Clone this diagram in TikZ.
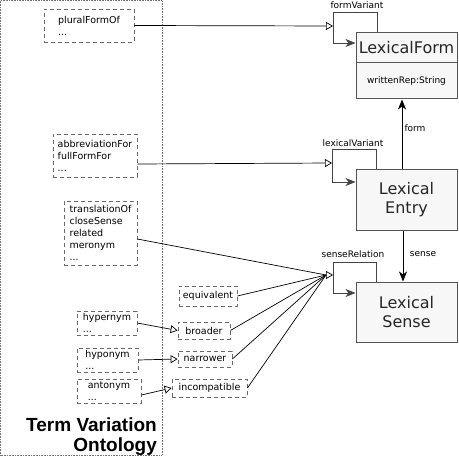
\documentclass[tikz,border=0pt]{standalone}
\usepackage{fontspec}
\setmainfont{DejaVu Sans}
\newfontfamily\tvofont{Liberation Sans}
\usetikzlibrary{arrows.meta,calc}
\definecolor{boxgray}{HTML}{555555}
\definecolor{boxfill}{HTML}{F7F7F7}
\definecolor{dgray}{HTML}{6A6A6A}
\definecolor{outgray}{HTML}{707070}
\definecolor{loopcol}{HTML}{444444}
\begin{document}
\begin{tikzpicture}[x=1pt,y=-1pt,
  mainbox/.style={draw=boxgray, fill=boxfill, line width=1pt, minimum width=101pt, inner sep=0pt, align=center, font=\fontsize{16}{19}\selectfont, text=black!85},
  dbox/.style={draw=dgray, dash pattern=on 4pt off 3pt, line width=0.8pt, inner sep=0pt, align=left, font=\fontsize{9.5}{12}\selectfont},
  lbl/.style={font=\fontsize{9}{11}\selectfont, inner sep=0pt},
  openarr/.style={line width=0.7pt, -{Triangle[open, length=7pt, width=8pt, fill=white]}},
  solidarr/.style={line width=0.8pt, -{Stealth[length=10pt, width=8pt, inset=3pt]}},
  plainline/.style={line width=0.7pt},
  outerframe/.style={draw=outgray, line width=0.8pt, dash pattern=on 0.8pt off 0.8pt},
]
\useasboundingbox (0,0) rectangle (458,462);

% outer dotted frame of the Term Variation Ontology
\draw[outerframe] (0.6,0.6) rectangle (162,455);
\node[anchor=east, align=right, inner sep=0pt, font=\tvofont\fontsize{19}{20}\bfseries\selectfont] (tvo) at (157,437) {Term Variation\\Ontology};

% dashed boxes
\node[dbox, minimum width=90pt, minimum height=33pt] (pf) at (89,25.5) {pluralFormOf\\...};
\node[dbox, minimum width=84pt, minimum height=43pt] (ab) at (95,155.5) {abbreviationFor\\fullFormFor\\...};
\node[dbox, minimum width=73pt, minimum height=64pt] (tr) at (100.5,233) {translationOf\\closeSense\\related\\meronym\\...};
\node[dbox, minimum width=60pt, minimum height=24pt] (hy) at (107,323) {hypernym\\...};
\node[dbox, minimum width=61pt, minimum height=24pt] (ho) at (107.5,360) {hyponym\\...};
\node[dbox, minimum width=64pt, minimum height=24pt] (an) at (109,391) {antonym\\...};
\node[dbox, minimum width=58pt, minimum height=20pt] (eq) at (208,296) {equivalent};
\node[dbox, minimum width=52pt, minimum height=17pt] (br) at (204,330.5) {broader};
\node[dbox, minimum width=54pt, minimum height=16pt] (na) at (205,359) {narrower};
\node[dbox, minimum width=75pt, minimum height=18pt] (ic) at (209.5,388) {incompatible};

% main boxes
\node[mainbox, minimum height=66pt] (LF) at (406.5,66) {};
\draw[boxgray, line width=1pt] ($(LF.north west)+(0,30)$) -- ($(LF.north east)+(0,30)$);
\node[inner sep=0pt, font=\fontsize{16}{19}\selectfont, text=black!85] (lfT) at (406.5,48) {LexicalForm};
\node[lbl] (lfA) at (406.5,81) {writtenRep:String};
\node[mainbox, minimum height=60pt] (LE) at (406.5,200) {Lexical\\Entry};
\node[mainbox, minimum height=60pt] (LS) at (406.5,312) {Lexical\\Sense};

% formVariant loop
\coordinate (fvA) at (377,12);
\coordinate (fvB) at (333,43);
\coordinate (fvT) at (333,26);
\draw[solidarr, loopcol] (fvA |- LF.north) -- (fvA) -| (fvB) -- (fvB -| LF.west);
\node[lbl] (fvL) at (357,5) {formVariant};
\draw[openarr] (pf.east) -- (fvT);

% lexicalVariant loop
\coordinate (lvA) at (376,149);
\coordinate (lvB) at (332,182);
\coordinate (lvT) at (332,163);
\draw[solidarr, loopcol] (lvA |- LE.north) -- (lvA) -| (lvB) -- (lvB -| LE.west);
\node[lbl] (lvL) at (353,143) {lexicalVariant};
\draw[openarr] ($(ab.east)+(0,8.5)$) -- (lvT);

% senseRelation loop
\coordinate (srA) at (376,262);
\coordinate (srB) at (333,293);
\coordinate (srT) at (333,275);
\coordinate (srBase) at (326,275);
\draw[solidarr, loopcol] (srA |- LS.north) -- (srA) -| (srB) -- (srB -| LS.west);
\node[lbl] (srL) at (353,254) {senseRelation};
\draw[plainline] ($(tr.east)+(0,6)$) -- (srBase);
\draw[plainline] (eq.east) -- (srBase);
\draw[plainline] (br.east) -- (srBase);
\draw[plainline] (na.east) -- (srBase);
\draw[plainline] (ic.east) -- (srBase);
\draw[openarr] (srBase) -- (srT);

% form and sense
\coordinate (fx) at (402,0);
\coordinate (sx) at (403,0);
\draw[solidarr] (LE.north -| fx) -- (LF.south -| fx);
\node[lbl] (formL) at (415,128) {form};
\draw[solidarr] (LE.south -| sx) -- (LS.north -| sx);
\node[lbl] (senseL) at (423,254) {sense};

% specialisations
\draw[openarr] (hy.east) -- (br.west);
\draw[openarr] (ho.east) -- (na.west);
\draw[openarr] ($(an.east)+(0,4)$) -- (ic.west);
\end{tikzpicture}
\end{document}
